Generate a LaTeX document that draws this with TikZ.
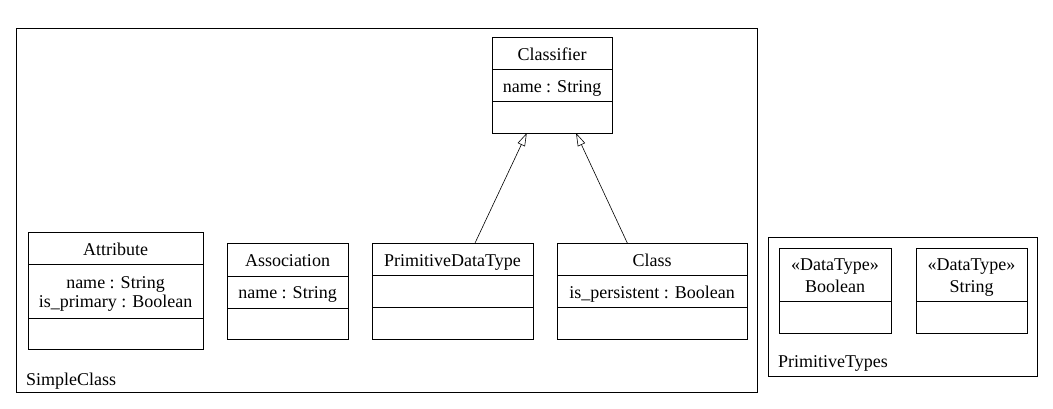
\documentclass[tikz,border=0pt]{standalone}
\usepackage{fontspec}
\setmainfont{Liberation Serif}
\usetikzlibrary{arrows.meta,calc}
\begin{document}
\begin{tikzpicture}[x=1pt,y=-1pt,
  box/.style={draw, line width=1pt, rectangle, inner sep=0pt, outer sep=0pt, anchor=north west},
  lbl/.style={anchor=base, inner sep=0pt, font=\fontsize{18}{19}\selectfont},
  lblw/.style={anchor=base west, inner sep=0pt, font=\fontsize{18}{19}\selectfont},
  div/.style={line width=1pt},
  gen/.style={line width=0.6pt, -{Triangle[open, length=13pt, width=8pt, line width=0.6pt]}}]
\useasboundingbox (0,0) rectangle (1053,408);
% frames
\node[box, minimum width=741pt, minimum height=364pt] (simple) at (16,28) {};
\node[box, minimum width=269pt, minimum height=139pt] (prim) at (768,237) {};
\node[lblw] (simplelbl) at (26,385) {SimpleClass};
\node[lblw] (primlbl) at (778,367) {PrimitiveTypes};
% Classifier
\node[box, minimum width=120pt, minimum height=96pt] (classifier) at (492,37) {};
\draw[div] ($(classifier.north west)+(0,32)$) -- ($(classifier.north east)+(0,32)$);
\draw[div] ($(classifier.north west)+(0,64)$) -- ($(classifier.north east)+(0,64)$);
\node[lbl] (classifiern) at (552,60) {Classifier};
\node[lbl] (classifiera) at (552,92) {name : String};
% Attribute
\node[box, minimum width=175pt, minimum height=117pt] (attribute) at (28,232) {};
\draw[div] ($(attribute.north west)+(0,32)$) -- ($(attribute.north east)+(0,32)$);
\draw[div] ($(attribute.north west)+(0,86)$) -- ($(attribute.north east)+(0,86)$);
\node[lbl] (attributen) at (115.5,255) {Attribute};
\node[lbl] (attributea1) at (115.5,288) {name : String};
\node[lbl] (attributea2) at (115.5,307) {is\_primary : Boolean};
% Association
\node[box, minimum width=121pt, minimum height=96pt] (association) at (227,243) {};
\draw[div] ($(association.north west)+(0,33)$) -- ($(association.north east)+(0,33)$);
\draw[div] ($(association.north west)+(0,65)$) -- ($(association.north east)+(0,65)$);
\node[lbl] (associationn) at (287.5,266) {Association};
\node[lbl] (associationa) at (287.5,298) {name : String};
% PrimitiveDataType
\node[box, minimum width=161pt, minimum height=96pt] (pdt) at (372,243) {};
\draw[div] ($(pdt.north west)+(0,32)$) -- ($(pdt.north east)+(0,32)$);
\draw[div] ($(pdt.north west)+(0,64)$) -- ($(pdt.north east)+(0,64)$);
\node[lbl] (pdtn) at (452.5,266) {PrimitiveDataType};
% Class
\node[box, minimum width=190pt, minimum height=96pt] (class) at (557,243) {};
\draw[div] ($(class.north west)+(0,32)$) -- ($(class.north east)+(0,32)$);
\draw[div] ($(class.north west)+(0,64)$) -- ($(class.north east)+(0,64)$);
\node[lbl] (classn) at (652,266) {Class};
\node[lbl] (classa) at (652,298) {is\_persistent : Boolean};
% Boolean
\node[box, minimum width=112pt, minimum height=85pt] (boolean) at (779,248) {};
\draw[div] ($(boolean.north west)+(0,53)$) -- ($(boolean.north east)+(0,53)$);
\node[lbl] (booleans) at (835,270) {«DataType»};
\node[lbl] (booleann) at (835,292) {Boolean};
% String
\node[box, minimum width=111pt, minimum height=85pt] (string) at (916,248) {};
\draw[div] ($(string.north west)+(0,53)$) -- ($(string.north east)+(0,53)$);
\node[lbl] (strings) at (971.5,270) {«DataType»};
\node[lbl] (stringn) at (971.5,292) {String};
% generalizations
\draw[gen] ($(pdt.north west)!0.64!(pdt.north east)$) -- ($(classifier.south west)!0.29!(classifier.south east)$);
\draw[gen] ($(class.north west)!0.37!(class.north east)$) -- ($(classifier.south west)!0.70!(classifier.south east)$);
\end{tikzpicture}
\end{document}
